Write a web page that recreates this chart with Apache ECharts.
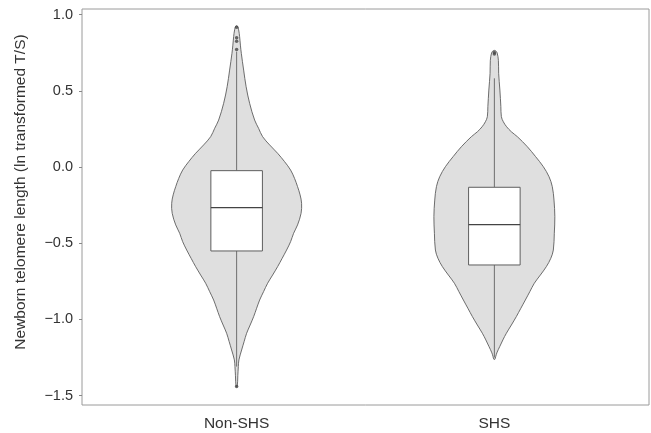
<!DOCTYPE html>
<html>
<head>
<meta charset="utf-8">
<script src="https://cdn.jsdelivr.net/npm/echarts@6/dist/echarts.min.js"></script>
<style>html,body{margin:0;padding:0;background:#fff}#chart{width:651px;height:433px}</style>
</head>
<body>
<div id="chart"></div>
<script>
// ---- data ----
const categories = ['Non-SHS', 'SHS'];
const yTicks = [-1.5, -1.0, -0.5, 0.0, 0.5, 1.0];

// violin profiles: value (y) and relative density
const nonShsDensityY = [0.925, 0.90, 0.855, 0.80, 0.746, 0.636, 0.527, 0.418, 0.308, 0.254, 0.199, 0.145, 0.090, 0.035, -0.020, -0.075, -0.129, -0.183, -0.238, -0.304, -0.380, -0.435, -0.490, -0.545, -0.600, -0.654, -0.709, -0.763, -0.818, -0.873, -0.927, -0.982, -1.037, -1.091, -1.146, -1.201, -1.266, -1.31, -1.37, -1.44];
const nonShsDensity  = [0.012, 0.031, 0.046, 0.058, 0.072, 0.108, 0.146, 0.200, 0.277, 0.338, 0.400, 0.508, 0.631, 0.738, 0.831, 0.892, 0.938, 0.977, 1.000, 0.992, 0.938, 0.877, 0.831, 0.769, 0.700, 0.631, 0.554, 0.477, 0.415, 0.354, 0.308, 0.262, 0.208, 0.154, 0.115, 0.077, 0.035, 0.026, 0.018, 0.009];

const shsDensityY = [0.764, 0.750, 0.700, 0.615, 0.505, 0.396, 0.330, 0.297, 0.264, 0.231, 0.199, 0.133, 0.068, 0.002, -0.064, -0.129, -0.217, -0.326, -0.435, -0.545, -0.599, -0.654, -0.709, -0.763, -0.818, -0.873, -0.927, -0.982, -1.037, -1.091, -1.135, -1.179, -1.220, -1.245, -1.262];
const shsDensity  = [0.015, 0.042, 0.062, 0.066, 0.085, 0.100, 0.108, 0.138, 0.189, 0.262, 0.354, 0.508, 0.635, 0.754, 0.842, 0.892, 0.918, 0.931, 0.923, 0.908, 0.869, 0.800, 0.708, 0.615, 0.546, 0.477, 0.408, 0.338, 0.262, 0.185, 0.131, 0.082, 0.038, 0.020, 0.008];

// box statistics: [lower whisker, Q1, median, Q3, upper whisker]
const nonShsBox = [-1.31, -0.551, -0.267, -0.024, 0.757];
const shsBox    = [-1.25, -0.643, -0.378, -0.133, 0.582];

// outliers
const nonShsOutliers = [0.917, 0.848, 0.825, 0.772, -1.44];
const shsOutliers    = [0.752, 0.742];

// ---- chart ----
const groups = [
  { ys: nonShsDensityY, ds: nonShsDensity, box: nonShsBox, out: nonShsOutliers },
  { ys: shsDensityY,    ds: shsDensity,    box: shsBox,    out: shsOutliers }
];
const VIOLIN_HALF = 0.252;   // half width (x units) at relative density 1
const BOX_HALF = 0.1;

const fmtY = v => (v < 0 ? '\u2212' : '') + Math.abs(v).toFixed(1);

const outlierData = [];
groups.forEach((g, i) => g.out.forEach(v => outlierData.push([i + 1, v])));

const chart = echarts.init(document.getElementById('chart'), null, { renderer: 'canvas' });
chart.setOption({
  animation: false,
  backgroundColor: '#fff',
  grid: { left: 82, top: 9, right: 2, bottom: 28, show: true, borderColor: '#9a9a9a', borderWidth: 1, backgroundColor: '#fff' },
  xAxis: {
    type: 'value', min: 0.4, max: 2.6,
    axisLine: { show: false },
    splitLine: { show: false },
    axisTick: { show: true, length: 3, lineStyle: { color: '#888' }, customValues: [1, 2] },
    axisLabel: { customValues: [1, 2], margin: 11, fontSize: 15.5, color: '#333', fontFamily: 'Liberation Sans, Arial, sans-serif',
      formatter: v => categories[Math.round(v) - 1] }
  },
  yAxis: {
    type: 'value', min: -1.562, max: 1.037,
    axisLine: { show: false },
    splitLine: { show: false },
    axisTick: { show: true, length: 3, lineStyle: { color: '#888' }, customValues: yTicks },
    axisLabel: { customValues: yTicks, margin: 9, fontSize: 14.5, color: '#333', fontFamily: 'Liberation Sans, Arial, sans-serif',
      formatter: fmtY }
  },
  graphic: [{
    type: 'text', x: 21, y: 192, rotation: Math.PI / 2,
    style: { text: 'Newborn telomere length (ln transformed T/S)', fontSize: 15.5, fill: '#333',
      fontFamily: 'Liberation Sans, Arial, sans-serif', textAlign: 'center', textVerticalAlign: 'middle' }
  }],
  series: [
    {
      type: 'custom', name: 'violin', data: [[1], [2]], z: 2,
      renderItem: (params, api) => {
        const g = groups[params.dataIndex];
        const c = api.value(0);
        const pts = [];
        for (let k = 0; k < g.ys.length; k++) pts.push(api.coord([c + g.ds[k] * VIOLIN_HALF, g.ys[k]]));
        for (let k = g.ys.length - 1; k >= 0; k--) pts.push(api.coord([c - g.ds[k] * VIOLIN_HALF, g.ys[k]]));
        return { type: 'polygon', shape: { points: pts, smooth: 0.35 },
          style: { fill: '#dfdfdf', stroke: '#5e5e5e', lineWidth: 0.9 } };
      }
    },
    {
      type: 'custom', name: 'box', data: [[1], [2]], z: 3,
      renderItem: (params, api) => {
        const b = groups[params.dataIndex].box;
        const c = api.value(0);
        const wl = api.coord([c, b[0]]), q1 = api.coord([c, b[1]]), md = api.coord([c, b[2]]),
              q3 = api.coord([c, b[3]]), wh = api.coord([c, b[4]]);
        const l = api.coord([c - BOX_HALF, b[3]]), r = api.coord([c + BOX_HALF, b[1]]);
        return { type: 'group', children: [
          { type: 'line', shape: { x1: wh[0], y1: wh[1], x2: q3[0], y2: q3[1] }, style: { stroke: '#6e6e6e', lineWidth: 1 } },
          { type: 'line', shape: { x1: q1[0], y1: q1[1], x2: wl[0], y2: wl[1] }, style: { stroke: '#6e6e6e', lineWidth: 1 } },
          { type: 'rect', shape: { x: l[0], y: l[1], width: r[0] - l[0], height: r[1] - l[1] },
            style: { fill: '#fff', stroke: '#5e5e5e', lineWidth: 1 } },
          { type: 'line', shape: { x1: l[0], y1: md[1], x2: r[0], y2: md[1] }, style: { stroke: '#444', lineWidth: 1.2 } }
        ] };
      }
    },
    {
      type: 'scatter', name: 'outliers', data: outlierData, z: 4,
      symbol: 'circle', symbolSize: 3.5, itemStyle: { color: '#444' }
    }
  ]
});
</script>
</body>
</html>
